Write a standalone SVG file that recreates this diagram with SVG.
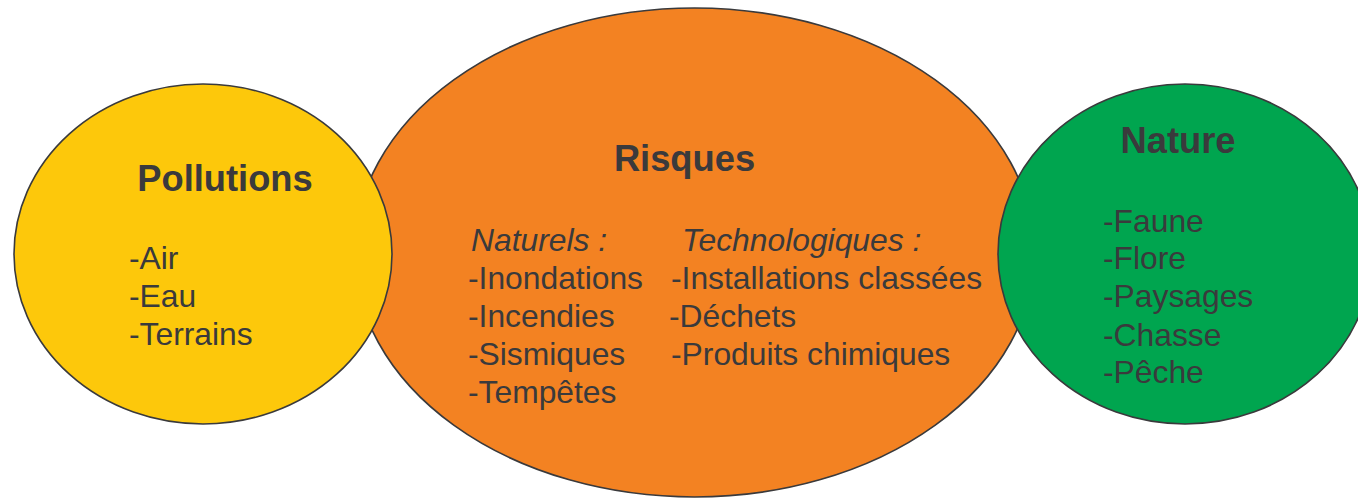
<svg xmlns="http://www.w3.org/2000/svg" width="1358" height="498" viewBox="0 0 1358 498">
<style>
.shape{stroke:#3a3a3c;stroke-width:1.6}
text{font-family:"Liberation Sans",Arial,sans-serif;fill:#3a3a3c}
.title{font-size:36.3px;font-weight:bold}
.body{font-size:31.8px}
.it{font-style:italic}
</style>
<rect width="1358" height="498" fill="#ffffff"/>
<g id="risques">
<ellipse class="shape" cx="694.5" cy="252.5" rx="340" ry="244.5" fill="#f38222"/>
<text class="title" x="684.5" y="171" text-anchor="middle">Risques</text>
<text class="body it" x="471" y="251">Naturels :</text>
<text class="body" x="468" y="289">-Inondations</text>
<text class="body" x="468" y="327">-Incendies</text>
<text class="body" x="468" y="365">-Sismiques</text>
<text class="body" x="468" y="403">-Tempêtes</text>
<text class="body it" x="682" y="251">Technologiques :</text>
<text class="body" x="671" y="289">-Installations classées</text>
<text class="body" x="669" y="327">-Déchets</text>
<text class="body" x="671" y="365">-Produits chimiques</text>
</g>
<g id="pollutions">
<ellipse class="shape" cx="203" cy="254" rx="189" ry="170" fill="#fdc80b"/>
<text class="title" x="225" y="191" text-anchor="middle">Pollutions</text>
<text class="body" x="129" y="269">-Air</text>
<text class="body" x="129" y="307">-Eau</text>
<text class="body" x="129" y="345">-Terrains</text>
</g>
<g id="nature">
<ellipse class="shape" cx="1185" cy="254" rx="187" ry="170" fill="#00a54f"/>
<text class="title" x="1178" y="153" text-anchor="middle">Nature</text>
<text class="body" x="1103" y="232">-Faune</text>
<text class="body" x="1103" y="269">-Flore</text>
<text class="body" x="1103" y="307">-Paysages</text>
<text class="body" x="1103" y="346">-Chasse</text>
<text class="body" x="1103" y="383">-Pêche</text>
</g>
<g id="connectors"/>
</svg>
